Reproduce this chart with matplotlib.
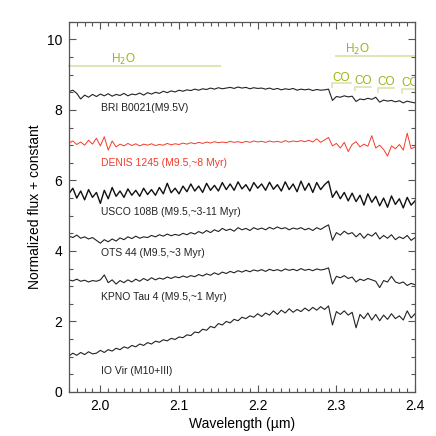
import numpy as np
import matplotlib
matplotlib.use('Agg')
import matplotlib.pyplot as plt
from matplotlib.ticker import MultipleLocator

plt.rcParams['font.family'] = ['Liberation Sans', 'DejaVu Sans']

# wavelength grid (micron), 0.005 steps from 1.96 to 2.40
wave = np.linspace(1.96, 2.40, 89)

bri = [8.52, 8.56, 8.47, 8.31, 8.42, 8.36, 8.44, 8.38, 8.45, 8.40,
       8.46, 8.39, 8.44, 8.41, 8.47, 8.40, 8.45, 8.43, 8.48, 8.42,
       8.49, 8.45, 8.50, 8.47, 8.53, 8.49, 8.54, 8.51, 8.56, 8.53,
       8.57, 8.55, 8.59, 8.56, 8.60, 8.58, 8.62, 8.59, 8.63, 8.60,
       8.62, 8.64, 8.61, 8.65, 8.62, 8.64, 8.60, 8.63, 8.61, 8.62,
       8.59, 8.62, 8.58, 8.61, 8.57, 8.60, 8.58, 8.61, 8.56, 8.59,
       8.57, 8.59, 8.55, 8.58, 8.56, 8.57, 8.59, 8.27, 8.38, 8.36,
       8.40, 8.37, 8.39, 8.24, 8.31, 8.29, 8.33, 8.30, 8.36, 8.22,
       8.28, 8.25, 8.27, 8.23, 8.26, 8.20, 8.25, 8.22, 8.20]

denis = [7.06, 7.12, 7.02, 7.09, 7.00, 7.14, 7.03, 7.20, 6.98, 7.24,
         6.86, 7.12, 6.95, 7.03, 6.98, 7.05, 6.99, 7.04, 6.98, 7.03,
         7.00, 7.04, 6.99, 7.02, 7.00, 7.05, 7.01, 7.04, 7.02, 7.06,
         7.03, 7.07, 7.04, 7.08, 7.05, 7.09, 7.06, 7.10, 7.07, 7.09,
         7.07, 7.11, 7.08, 7.10, 7.07, 7.11, 7.08, 7.12, 7.09, 7.11,
         7.08, 7.12, 7.09, 7.11, 7.08, 7.13, 7.09, 7.12, 7.10, 7.13,
         7.10, 7.14, 7.09, 7.18, 7.08, 7.15, 7.22, 6.98, 7.05, 6.92,
         7.08, 6.82, 7.02, 7.10, 6.95, 7.03, 6.97, 7.27, 6.92, 7.00,
         6.88, 6.69, 6.98, 6.90, 7.02, 6.86, 7.34, 6.90, 6.95]

usco = [5.62, 5.78, 5.50, 5.70, 5.45, 5.74, 5.52, 5.66, 5.35, 5.72,
        5.48, 5.80, 5.55, 5.70, 5.52, 5.76, 5.58, 5.72, 5.55, 5.78,
        5.60, 5.74, 5.58, 5.80, 5.62, 5.92, 5.65, 5.78, 5.62, 5.84,
        5.68, 5.90, 5.70, 5.84, 5.66, 5.92, 5.72, 5.86, 5.70, 5.94,
        5.74, 5.90, 5.72, 5.96, 5.76, 5.88, 5.70, 5.94, 5.78, 5.90,
        5.72, 5.95, 5.75, 5.88, 5.70, 5.96, 5.74, 5.90, 5.68, 5.98,
        5.72, 5.92, 5.66, 5.94, 5.74, 5.88, 5.98, 5.52, 5.70, 5.48,
        5.66, 5.42, 5.64, 5.40, 5.58, 5.30, 5.62, 5.38, 5.55, 5.28,
        5.50, 5.24, 5.56, 5.32, 5.48, 5.22, 5.52, 5.30, 5.42]

ots = [4.42, 4.38, 4.45, 4.36, 4.40, 4.34, 4.38, 4.30, 4.22, 4.32,
       4.26, 4.34, 4.28, 4.37, 4.32, 4.40, 4.35, 4.42, 4.36, 4.40,
       4.38, 4.44, 4.40, 4.46, 4.42, 4.48, 4.43, 4.47, 4.44, 4.50,
       4.46, 4.52, 4.48, 4.55, 4.50, 4.58, 4.52, 4.60, 4.55, 4.64,
       4.58, 4.62, 4.56, 4.66, 4.60, 4.64, 4.58, 4.66, 4.61, 4.65,
       4.60, 4.67, 4.62, 4.68, 4.63, 4.66, 4.60, 4.65, 4.62, 4.66,
       4.60, 4.64, 4.58, 4.66, 4.61, 4.68, 4.74, 4.30, 4.52, 4.45,
       4.56, 4.48, 4.52, 4.40, 4.50, 4.36, 4.48, 4.42, 4.52, 4.34,
       4.44, 4.36, 4.46, 4.32, 4.40, 4.35, 4.44, 4.30, 4.38]

kpno = [3.18, 3.15, 3.20, 3.14, 3.17, 3.12, 3.16, 3.14, 3.18, 3.32,
        3.10, 3.18, 3.06, 3.16, 3.10, 3.18, 3.12, 3.20, 3.14, 3.22,
        3.16, 3.24, 3.18, 3.23, 3.20, 3.26, 3.22, 3.27, 3.24, 3.29,
        3.25, 3.30, 3.27, 3.33, 3.29, 3.35, 3.31, 3.38, 3.33, 3.40,
        3.36, 3.42, 3.38, 3.44, 3.40, 3.45, 3.41, 3.46, 3.43, 3.47,
        3.42, 3.48, 3.44, 3.47, 3.43, 3.49, 3.45, 3.48, 3.44, 3.50,
        3.45, 3.48, 3.44, 3.49, 3.46, 3.48, 3.52, 3.06, 3.28, 3.24,
        3.30, 3.22, 3.26, 3.12, 3.20, 3.16, 3.22, 3.18, 3.14, 2.96,
        3.16, 3.12, 3.28, 3.12, 3.08, 3.12, 3.02, 3.08, 3.04]

iovir = [1.02, 1.10, 1.04, 1.12, 1.06, 1.14, 1.08, 1.10, 1.18, 1.12,
         1.20, 1.16, 1.24, 1.20, 1.28, 1.24, 1.32, 1.28, 1.36, 1.32,
         1.40, 1.36, 1.44, 1.41, 1.48, 1.45, 1.52, 1.49, 1.56, 1.54,
         1.62, 1.60, 1.70, 1.68, 1.78, 1.75, 1.86, 1.82, 1.94, 1.90,
         2.00, 1.96, 2.06, 2.02, 2.12, 2.08, 2.16, 2.12, 2.22, 2.14,
         2.24, 2.18, 2.30, 2.20, 2.32, 2.24, 2.36, 2.26, 2.34, 2.28,
         2.38, 2.30, 2.40, 2.32, 2.42, 2.34, 2.44, 1.90, 2.28, 2.20,
         2.30, 2.18, 2.26, 1.82, 2.20, 2.08, 2.24, 2.04, 2.20, 2.02,
         2.18, 2.06, 2.22, 2.08, 2.16, 2.04, 2.30, 2.10, 2.22]

labels = ['BRI B0021(M9.5V)', 'DENIS 1245 (M9.5,~8 Myr)', 'USCO 108B (M9.5,~3-11 Myr)',
          'OTS 44 (M9.5,~3 Myr)', 'KPNO Tau 4 (M9.5,~1 Myr)', 'IO Vir (M10+III)']
label_y = [8.05, 6.5, 5.1, 3.95, 2.7, 0.6]
spectra = [bri, denis, usco, ots, kpno, iovir]
colors = ['#222222', '#f23c2a', '#111111', '#222222', '#222222', '#222222']
widths = [0.8, 0.7, 1.0, 0.8, 0.8, 0.8]

# band markers
h2o_bands = [(1.96, 2.152, 9.24), (2.30, 2.40, 9.53)]
h2o_text = [(2.029, 9.43), (2.326, 9.72)]
co_start = [2.295, 2.324, 2.353, 2.383]
co_end = [2.319, 2.344, 2.373, 2.40]
co_y = [8.75, 8.66, 8.62, 8.59]

fig = plt.figure(figsize=(4.36, 4.36), dpi=100)
ax = fig.add_axes([0.158, 0.101, 0.794, 0.849])

for flux, c, lw in zip(spectra, colors, widths):
    ax.plot(wave, flux, color=c, linewidth=lw)

for txt, ty, c in zip(labels, label_y, colors):
    ax.text(2.001, ty, txt, color='#f23c2a' if c == '#f23c2a' else '#222222',
            fontsize=7.5, va='center', ha='left')

green = '#9cb414'
pale = '#dfe6b8'
for (x0, x1, y), (tx, ty) in zip(h2o_bands, h2o_text):
    ax.plot([x0, x1], [y, y], color=pale, linewidth=1.5, clip_on=False)
    ax.text(tx, ty, r'H$_2$O', color=green, fontsize=8.5, ha='center', va='center')

for x0, x1, y in zip(co_start, co_end, co_y):
    ax.plot([x0, x0, x1], [y - 0.1, y, y], color=pale, linewidth=1.3)
    ax.text(x0 + 0.0105, y + 0.17, 'CO', color=green, fontsize=8.5, ha='center', va='center',
            clip_on=True)

ax.set_xlim(1.96, 2.40)
ax.set_ylim(0, 10.5)
ax.xaxis.set_major_locator(MultipleLocator(0.1))
ax.xaxis.set_minor_locator(MultipleLocator(0.01))
ax.yaxis.set_major_locator(MultipleLocator(2))
ax.yaxis.set_minor_locator(MultipleLocator(0.5))
ax.set_xticks([2.0, 2.1, 2.2, 2.3, 2.4])
ax.set_xticklabels(['2.0', '2.1', '2.2', '2.3', '2.4'])
ax.tick_params(which='both', direction='in', top=True, right=True, color='#555555',
               labelsize=10, width=0.8)
ax.tick_params(which='major', length=5, pad=5)
ax.tick_params(which='minor', length=3)
for s in ax.spines.values():
    s.set_color('#555555')
    s.set_linewidth(0.9)

ax.set_xlabel('Wavelength (\u00b5m)', fontsize=10, labelpad=3)
ax.set_ylabel('Normalized flux + constant', fontsize=10, labelpad=3)

fig.savefig('out.png', dpi=100)
